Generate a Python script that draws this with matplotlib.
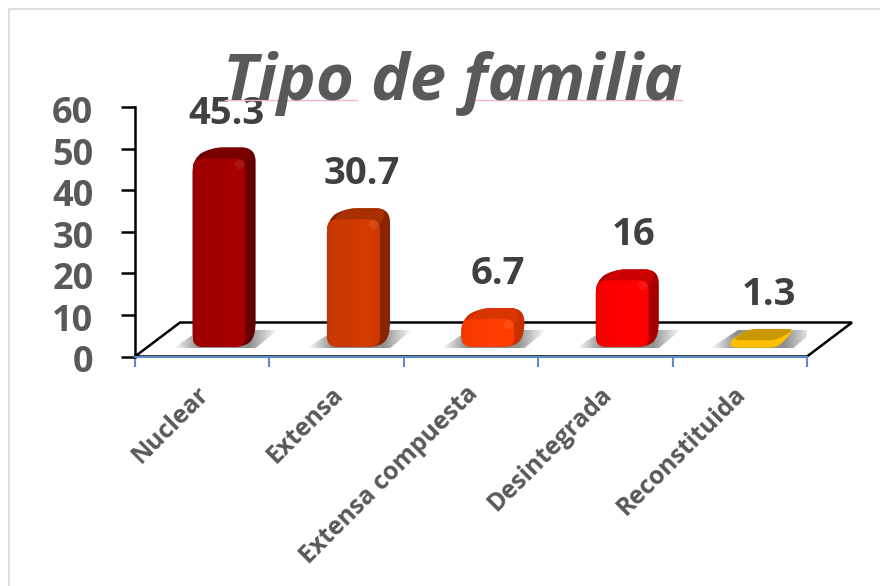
"""Tipo de familia: 3D looking column chart drawn on plain matplotlib axes."""

import numpy as np
import matplotlib
matplotlib.use("Agg")
import matplotlib.pyplot as plt
from matplotlib.colors import to_rgb
from matplotlib.patches import PathPatch, Polygon
from matplotlib.path import Path
from matplotlib.transforms import ScaledTranslation

categories = ["Nuclear", "Extensa", "Extensa compuesta", "Desintegrada", "Reconstituida"]
values = [45.3, 30.7, 6.7, 16, 1.3]
labels = ["45.3", "30.7", "6.7", "16", "1.3"]
yticks = [0, 10, 20, 30, 40, 50, 60]

front_colors = ["#A30000", "#CF3A00", "#FF3D00", "#FF0000", "#FFC000"]
side_colors = ["#640000", "#8A2400", "#C93000", "#A80000", "#C99700"]
top_colors = ["#7A0000", "#A83000", "#D93500", "#CC0000", "#C99700"]

W, H = 880, 586
LEFT, RIGHT, TOP, BOTTOM = 135, 807, 107, 356.5
PX_X = (RIGHT - LEFT) / 5.0   # pixels per category
PX_Y = (BOTTOM - TOP) / 60.0  # pixels per value unit
TEXT = "#595959"
FONT = "Open Sans"

# bar geometry in data units
BASE = 2.3
BAR_LEFT = -0.072
BAR_W = 0.395
DEPTH_X = 10 / PX_X
DEPTH_Y = 11 / PX_Y


def rounded(points, r=9):
    """Closed path through points with the corners rounded, r in pixels."""
    pts = np.array(points, dtype=float)
    verts, codes = [], []
    n = len(pts)
    for i in range(n):
        p, prev, nxt = pts[i], pts[i - 1], pts[(i + 1) % n]
        out = []
        for q in (prev, nxt):
            d = np.hypot((q[0] - p[0]) * PX_X, (q[1] - p[1]) * PX_Y)
            out.append(p + (q - p) * min(0.5, r / max(d, 1e-6)))
        verts += [out[0], p, out[1]]
        codes += [Path.MOVETO if i == 0 else Path.LINETO, Path.CURVE3, Path.CURVE3]
    verts.append(verts[0])
    codes.append(Path.CLOSEPOLY)
    return Path(verts, codes)


def gradient(ax, path, extent, color, stops, zorder):
    """Horizontal shading of color inside path."""
    base = np.array(to_rgb(color))
    strip = np.clip(np.outer(np.interp(np.linspace(0, 1, 60), stops[0], stops[1]), base), 0, 1)
    im = ax.imshow(strip[np.newaxis, :, :], extent=extent, aspect="auto", zorder=zorder,
                   interpolation="bilinear")
    im.set_clip_path(PathPatch(path, transform=ax.transData))


fig = plt.figure(figsize=(W / 100, H / 100), dpi=100)
ax = fig.add_axes([LEFT / W, 1 - BOTTOM / H, (RIGHT - LEFT) / W, (BOTTOM - TOP) / H])

# outer frame, only top and left show in the crop
fig.add_artist(plt.Line2D([9 / W, 9 / W, 1], [0, 1 - 9 / H, 1 - 9 / H], color="#D9D9D9", lw=1.2))

# floor
fl_x = 45 / PX_X
fl_y = 34 / PX_Y
ax.add_patch(Polygon([(-0.5, 0), (-0.5 + fl_x, fl_y), (4.5 + fl_x, fl_y), (4.5, 0)],
                     closed=True, fc="white", ec="black", lw=1.8, clip_on=False, zorder=1,
                     joinstyle="miter"))

for i, v in enumerate(values):
    x0 = i + BAR_LEFT
    x1 = x0 + BAR_W
    y1 = BASE + v
    small = v < 3
    r = 14

    # floor shadow
    sx0, sx1 = x0 - 20 / PX_X, x1 + 32 / PX_X
    shadow = Path([(sx0, BASE - 0.3), (x0 + 8 / PX_X, BASE + 17 / PX_Y), (sx1, BASE + 17 / PX_Y),
                   (x1 + 10 / PX_X, BASE - 0.3), (sx0, BASE - 0.3)], closed=True)
    alpha = np.interp(np.linspace(0, 1, 60), [0, 0.24, 0.72, 1], [0, 0.8, 0.8, 0])
    shade = np.zeros((1, 60, 4))
    shade[..., :3] = 0.45
    shade[..., 3] = alpha
    im = ax.imshow(shade, extent=(sx0, sx1, BASE - 0.3, BASE + 17 / PX_Y), aspect="auto", zorder=2,
                   interpolation="bilinear")
    im.set_clip_path(PathPatch(shadow, transform=ax.transData))

    if small:
        # flat chip: nearly all of it is the lid
        dx, dy = 19 / PX_X, 18 / PX_Y
        w = 46 / PX_X
        body = rounded([(x0, BASE - 0.2), (x0, BASE + 1.6), (x0 + dx, BASE + dy),
                        (x0 + dx + w, BASE + dy), (x0 + w + 0.01, BASE - 0.2)], r=8)
        top = rounded([(x0 + 0.01, BASE + 1.6), (x0 + dx, BASE + dy), (x0 + dx + w, BASE + dy),
                       (x0 + w, BASE + 1.6)], r=8)
        ax.add_patch(PathPatch(body, fc=front_colors[i], ec="none", zorder=3))
        ax.add_patch(PathPatch(top, fc=top_colors[i], ec="none", zorder=4))
        back_top = BASE + dy
    else:
        back_top = y1 + DEPTH_Y
        hull = rounded([(x0, BASE), (x0, y1), (x0 + 18 / PX_X, back_top),
                        (x1 + DEPTH_X, back_top), (x1 + DEPTH_X, BASE + DEPTH_Y), (x1, BASE)], r=r)
        ax.add_patch(PathPatch(hull, fc=side_colors[i], ec="none", zorder=3))
        lid = rounded([(x0, y1 - 2), (x0 + 18 / PX_X, back_top), (x1 + DEPTH_X * 0.7, back_top),
                       (x1, y1 - 2)], r=10)
        ax.add_patch(PathPatch(lid, fc=top_colors[i], ec="none", zorder=4))
        face = rounded([(x0, BASE), (x0, y1), (x1, y1), (x1, BASE)], r=10)
        gradient(ax, face, (x0, x1, BASE, y1), front_colors[i],
                 ([0, 0.05, 0.55, 0.75, 0.95, 1], [0.92, 0.97, 1.0, 1.04, 1.0, 0.95]), 5)
        # soft highlight near the top right corner
        ax.plot([x1 - 0.05], [y1 - 1.2], "o", ms=7, mfc="white", mec="none",
                alpha=0.08, zorder=6)

    ax.annotate(labels[i], (x0 + 0.25 + 0.01 * i, back_top), xytext=(0, 34 * 0.72), textcoords="offset points",
                ha="center", va="center", fontsize=27.5, fontweight="bold", color="#404040",
                fontfamily=FONT, zorder=8, annotation_clip=False)

ax.set_xlim(-0.5, 4.5)
ax.set_ylim(0, 60)

ax.set_yticks(yticks)
ax.set_xticks(np.arange(-0.5, 5, 1))
ax.set_xticklabels([])
ax.set_xticks(np.arange(5), labels=categories, minor=True)
ax.tick_params(axis="y", length=10, width=1.8, color="black", pad=20, labelsize=26,
               labelcolor=TEXT)
ax.tick_params(axis="x", which="major", length=7.5, width=1.5, color="#5B8BC9", direction="out")
ax.tick_params(axis="x", which="minor", length=0, pad=18, labelsize=17.8, labelcolor=TEXT)
ydown = ScaledTranslation(0, -2.5 / 100, fig.dpi_scale_trans)
for t in ax.get_yticklabels():
    t.set_fontfamily(FONT)
    t.set_fontweight("bold")
    t.set_transform(t.get_transform() + ydown)
shift = ScaledTranslation(-6 / 100, 0, fig.dpi_scale_trans)
for t in ax.get_xticklabels(minor=True):
    t.set_fontfamily(FONT)
    t.set_fontweight("bold")
    t.set_rotation(45)
    t.set_ha("right")
    t.set_va("top")
    t.set_rotation_mode("anchor")
    t.set_transform(t.get_transform() + shift)

ax.patch.set_visible(False)
for s in ("top", "right"):
    ax.spines[s].set_visible(False)
ax.spines["left"].set_linewidth(1.8)
ax.spines["bottom"].set_color("#5B8BC9")
ax.spines["bottom"].set_linewidth(1.5)

# title with the spell-check underlines left in the source image
fig.text(453 / W, 1 - 100 / H, "Tipo de familia", ha="center", va="baseline", fontsize=47,
         fontweight="bold", fontstyle="italic", color=TEXT, fontfamily=FONT, zorder=9)
for a, b in [(225, 357), (467, 682)]:
    fig.add_artist(plt.Line2D([a / W, b / W], [1 - 100.5 / H] * 2, color="#F4B6C2", lw=1))

fig.savefig("out.png", dpi=100)
